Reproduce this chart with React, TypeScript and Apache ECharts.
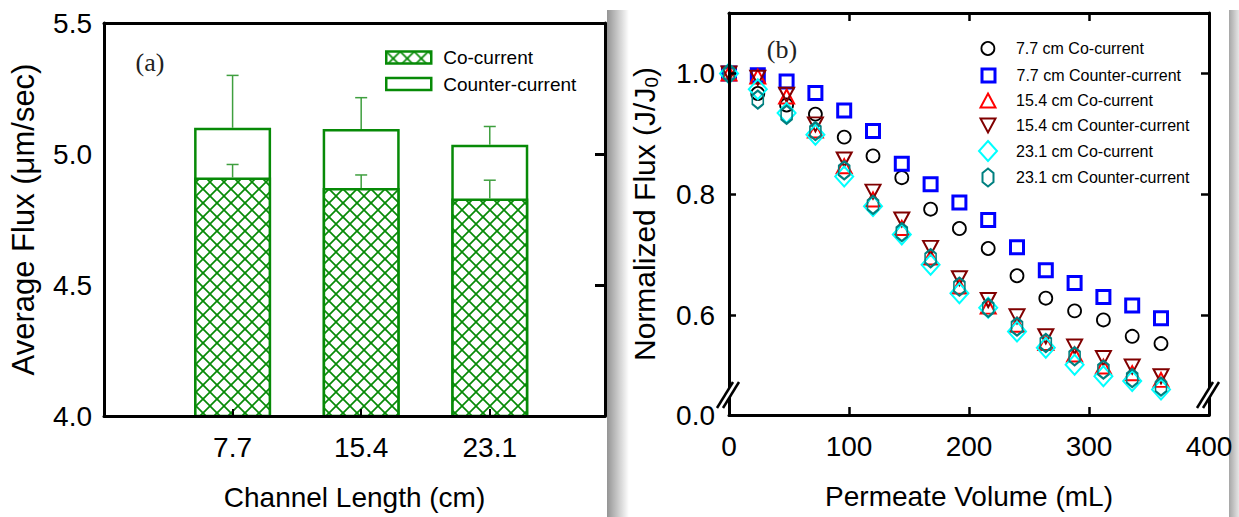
import React, { useEffect, useRef } from 'react';
import * as echarts from 'echarts';

// ---------- Panel (a) data ----------
const channelLengths = [7.7, 15.4, 23.1];
const channelLabels = ['7.7', '15.4', '23.1'];
const coCurrentFlux = [4.91, 4.87, 4.83];
const coCurrentErr = [0.05, 0.05, 0.07];
const counterCurrentFlux = [5.1, 5.095, 5.035];
const counterCurrentErr = [0.2, 0.12, 0.07];
const fluxTickValues = [4.0, 4.5, 5.0, 5.5];
const fluxTickLabels = ['4.0', '4.5', '5.0', '5.5'];

// ---------- Panel (b) data ----------
const permeateVolume = [0, 24, 48, 72, 96, 120, 144, 168, 192, 216, 240, 264, 288, 312, 336, 360];
const flux77Co = [1.0, 0.967, 0.948, 0.933, 0.895, 0.864, 0.828, 0.776, 0.744, 0.711, 0.666, 0.629, 0.608, 0.593, 0.566, 0.554];
const flux77Counter = [1.0, 0.997, 0.987, 0.968, 0.939, 0.905, 0.851, 0.817, 0.787, 0.758, 0.713, 0.675, 0.654, 0.631, 0.617, 0.596];
const flux154Co = [1.0, 0.995, 0.962, 0.906, 0.847, 0.792, 0.745, 0.696, 0.648, 0.615, 0.585, 0.555, 0.536, 0.516, 0.505, 0.494];
const flux154Counter = [1.0, 0.993, 0.965, 0.916, 0.858, 0.805, 0.759, 0.712, 0.662, 0.626, 0.599, 0.566, 0.549, 0.53, 0.516, 0.5];
const flux231Co = [1.0, 0.974, 0.935, 0.899, 0.83, 0.781, 0.734, 0.684, 0.637, 0.613, 0.574, 0.547, 0.519, 0.5, 0.492, 0.478];
const flux231Counter = [1.0, 0.957, 0.932, 0.905, 0.84, 0.783, 0.738, 0.695, 0.648, 0.613, 0.582, 0.555, 0.533, 0.511, 0.497, 0.483];
const volumeTickValues = [0, 100, 200, 300, 400];
const normTickValues = [0.436, 0.6, 0.8, 1.0];
const normTickLabels = ['0.0', '0.6', '0.8', '1.0'];

const FONT = 'Liberation Sans, Arial, sans-serif';
const GREEN = '#078a07';
const ERR_GREEN = '#3f9f3f';

const HEX_PATH = 'path://M0,-1 L0.866,-0.5 L0.866,0.5 L0,1 L-0.866,0.5 L-0.866,-0.5 Z';
const DOWN_TRI_PATH = 'path://M-1,-1 L1,-1 L0,1 Z';

const scatterDefs = [
  { name: '7.7 cm Co-current', data: flux77Co, symbol: 'circle', size: [13, 13], color: '#000000', bw: 1.8, row: 47 },
  { name: '7.7 cm Counter-current', data: flux77Counter, symbol: 'rect', size: [13, 13], color: '#0000ff', bw: 3, row: 74 },
  { name: '15.4 cm Co-current', data: flux154Co, symbol: 'triangle', size: [15, 14], color: '#ff0000', bw: 2, row: 99.5 },
  { name: '15.4 cm Counter-current', data: flux154Counter, symbol: DOWN_TRI_PATH, size: [15, 14], color: '#800000', bw: 2, row: 124.5 },
  { name: '23.1 cm Co-current', data: flux231Co, symbol: 'diamond', size: [18, 20], color: '#00ffff', bw: 2, row: 150 },
  { name: '23.1 cm Counter-current', data: flux231Counter, symbol: HEX_PATH, size: [11, 18], color: '#008080', bw: 2, row: 176.5 },
];

function makeHatch(): HTMLCanvasElement {
  const s = 14;
  const c = document.createElement('canvas');
  c.width = s;
  c.height = s;
  const ctx = c.getContext('2d')!;
  ctx.fillStyle = '#ffffff';
  ctx.fillRect(0, 0, s, s);
  ctx.strokeStyle = GREEN;
  ctx.lineWidth = 1.7;
  for (const d of [-s, 0, s]) {
    ctx.beginPath();
    ctx.moveTo(d, 0);
    ctx.lineTo(d + s, s);
    ctx.stroke();
    ctx.beginPath();
    ctx.moveTo(s + d, 0);
    ctx.lineTo(d, s);
    ctx.stroke();
  }
  return c;
}

export default function App() {
  const ref = useRef<HTMLDivElement>(null);

  useEffect(() => {
    if (!ref.current) return;
    const chart = echarts.init(ref.current, null, { renderer: 'svg' });
    const hatch = makeHatch();
    const hatchFill: any = { image: hatch, repeat: 'repeat', imageWidth: 14, imageHeight: 14 };

    const axisLine = { show: true, onZero: false, lineStyle: { color: '#000', width: 3 } };
    const labelStyle = { color: '#000', fontFamily: FONT, fontSize: 28 };

    const errRender = (params: any, api: any) => {
      const base = api.coord([api.value(0), api.value(1)]);
      const top = api.coord([api.value(0), api.value(2)]);
      return {
        type: 'group',
        children: [
          { type: 'line', shape: { x1: base[0], y1: base[1], x2: top[0], y2: top[1] }, style: { stroke: ERR_GREEN, lineWidth: 1.5 } },
          { type: 'line', shape: { x1: top[0] - 6, y1: top[1], x2: top[0] + 6, y2: top[1] }, style: { stroke: ERR_GREEN, lineWidth: 1.5 } },
        ],
      };
    };

    const rightLegends = scatterDefs.map((d) => {
      const w = d.size[0];
      const h = d.size[1];
      const left = 987 - w / 2;
      return {
        data: [d.name],
        orient: 'vertical',
        left,
        top: d.row - h / 2,
        padding: 0,
        itemWidth: w,
        itemHeight: h,
        symbolKeepAspect: false,
        selectedMode: false,
        itemStyle: { borderWidth: d.bw },
        textStyle: { color: '#000', fontFamily: FONT, fontSize: 16, padding: [0, 0, 0, 1015 - (left + w + 5)] },
      };
    });

    const option: any = {
      animation: false,
      backgroundColor: '#ffffff',
      grid: [
        { left: 104, top: 23, width: 501, height: 393, containLabel: false, outerBoundsMode: 'none' },
        { left: 729, top: 13, width: 480, height: 402, containLabel: false, outerBoundsMode: 'none' },
      ],
      legend: [
        {
          data: ['Co-current'], left: 385, top: 48, padding: 0, itemWidth: 45, itemHeight: 12, icon: 'rect',
          selectedMode: false, itemStyle: { borderWidth: 2.5 },
          textStyle: { color: '#000', fontFamily: FONT, fontSize: 19, padding: [0, 0, 0, 7] },
        },
        {
          data: ['Counter-current'], left: 385, top: 74.5, padding: 0, itemWidth: 45, itemHeight: 12, icon: 'rect',
          selectedMode: false, itemStyle: { borderWidth: 2.5 },
          textStyle: { color: '#000', fontFamily: FONT, fontSize: 19, padding: [0, 0, 0, 7] },
        },
        ...rightLegends,
      ],
      xAxis: [
        {
          gridIndex: 0, type: 'value', min: 0, max: 30, position: 'bottom', z: 10,
          axisLine, splitLine: { show: false },
          axisTick: { show: true, inside: true, length: 7, lineStyle: { width: 2, color: '#000' }, customValues: channelLengths },
          axisLabel: {
            ...labelStyle, margin: 17, customValues: channelLengths,
            formatter: (v: number) => channelLabels[channelLengths.findIndex((c) => Math.abs(c - v) < 1e-6)] ?? '',
          },
          name: 'Channel Length (cm)', nameLocation: 'middle', nameGap: 67,
          nameTextStyle: { color: '#000', fontFamily: FONT, fontSize: 28 },
        },
        {
          gridIndex: 0, type: 'value', min: 0, max: 30, position: 'top', z: 10,
          axisLine, splitLine: { show: false }, axisTick: { show: false }, axisLabel: { show: false },
        },
        {
          gridIndex: 1, type: 'value', min: 0, max: 400, interval: 100, position: 'bottom', z: 10,
          axisLine, splitLine: { show: false },
          axisTick: { show: true, inside: true, length: 8, lineStyle: { width: 2.5, color: '#000' }, customValues: [100, 200, 300] },
          axisLabel: { ...labelStyle, margin: 17, customValues: volumeTickValues, formatter: (v: number) => String(v) },
          name: 'Permeate Volume (mL)', nameLocation: 'middle', nameGap: 67,
          nameTextStyle: { color: '#000', fontFamily: FONT, fontSize: 28 },
        },
        {
          gridIndex: 1, type: 'value', min: 0, max: 400, interval: 100, position: 'top', z: 10,
          axisLine, splitLine: { show: false },
          axisTick: { show: true, inside: true, length: 8, lineStyle: { width: 2.5, color: '#000' }, customValues: [100, 200, 300] },
          axisLabel: { show: false },
        },
      ],
      yAxis: [
        {
          gridIndex: 0, type: 'value', min: 4.0, max: 5.5, interval: 0.5, position: 'left', z: 10,
          axisLine, splitLine: { show: false }, axisTick: { show: false },
          axisLabel: {
            ...labelStyle, margin: 12, customValues: fluxTickValues,
            formatter: (v: number) => fluxTickLabels[fluxTickValues.findIndex((c) => Math.abs(c - v) < 1e-6)] ?? '',
          },
          name: 'Average Flux (μm/sec)', nameLocation: 'middle', nameGap: 65,
          nameTextStyle: { color: '#000', fontFamily: FONT, fontSize: 31 },
        },
        {
          gridIndex: 0, type: 'value', min: 4.0, max: 5.5, interval: 0.5, position: 'right', z: 10,
          axisLine, splitLine: { show: false },
          axisTick: { show: true, inside: true, length: 10, lineStyle: { width: 3, color: '#000' }, customValues: [4.5, 5.0] },
          axisLabel: { show: false },
        },
        {
          gridIndex: 1, type: 'value', min: 0.436, max: 1.1, position: 'left', z: 10,
          axisLine, splitLine: { show: false },
          axisTick: { show: true, inside: true, length: 7, lineStyle: { width: 2.5, color: '#000' }, customValues: [0.6, 0.8, 1.0] },
          axisLabel: {
            ...labelStyle, margin: 14, customValues: normTickValues,
            formatter: (v: number) => normTickLabels[normTickValues.findIndex((c) => Math.abs(c - v) < 1e-6)] ?? '',
          },
          name: '{n|Normalized Flux (J/J}{sub|0}{n|)}', nameLocation: 'middle', nameGap: 68,
          nameTextStyle: {
            color: '#000', fontFamily: FONT, fontSize: 30,
            rich: {
              n: { color: '#000', fontFamily: FONT, fontSize: 30, verticalAlign: 'top', lineHeight: 32 },
              sub: { color: '#000', fontFamily: FONT, fontSize: 19, verticalAlign: 'top', padding: [13, 0, 0, 0] },
            },
          },
        },
        {
          gridIndex: 1, type: 'value', min: 0.436, max: 1.1, position: 'right', z: 10,
          axisLine, splitLine: { show: false },
          axisTick: { show: true, inside: true, length: 8, lineStyle: { width: 2.5, color: '#000' }, customValues: [0.6, 0.8, 1.0] },
          axisLabel: { show: false },
        },
      ],
      series: [
        {
          name: 'Counter-current', type: 'bar', xAxisIndex: 0, yAxisIndex: 0, barWidth: 77, barGap: '-100%',
          data: channelLengths.map((x, i) => [x, counterCurrentFlux[i]]),
          itemStyle: { color: '#ffffff', borderColor: GREEN, borderWidth: 2.5 },
          silent: true,
        },
        {
          name: 'Co-current', type: 'bar', xAxisIndex: 0, yAxisIndex: 0, barWidth: 77, barGap: '-100%',
          data: channelLengths.map((x, i) => [x, coCurrentFlux[i]]),
          itemStyle: { color: hatchFill, borderColor: GREEN, borderWidth: 2.5 },
          silent: true,
        },
        {
          name: 'counterErr', type: 'custom', xAxisIndex: 0, yAxisIndex: 0, z: 4, silent: true,
          encode: { x: 0, y: [1, 2] },
          data: channelLengths.map((x, i) => [x, counterCurrentFlux[i], counterCurrentFlux[i] + counterCurrentErr[i]]),
          renderItem: errRender,
        },
        {
          name: 'coErr', type: 'custom', xAxisIndex: 0, yAxisIndex: 0, z: 4, silent: true,
          encode: { x: 0, y: [1, 2] },
          data: channelLengths.map((x, i) => [x, coCurrentFlux[i], coCurrentFlux[i] + coCurrentErr[i]]),
          renderItem: errRender,
        },
        ...scatterDefs.map((d) => ({
          name: d.name, type: 'scatter', xAxisIndex: 2, yAxisIndex: 2, silent: true,
          symbol: d.symbol, symbolSize: d.size,
          data: permeateVolume.map((v, i) => [v, d.data[i]]),
          itemStyle: { color: 'rgba(255,255,255,0)', borderColor: d.color, borderWidth: d.bw, opacity: 1 },
        })),
      ],
      graphic: [
        {
          type: 'rect', z: 1, shape: { x: 607, y: 10, width: 22, height: 507 },
          style: { fill: { type: 'linear', x: 0, y: 0, x2: 1, y2: 0, colorStops: [{ offset: 0, color: 'rgba(0,0,0,0.42)' }, { offset: 1, color: 'rgba(0,0,0,0)' }] } },
        },
        {
          type: 'rect', z: 1, shape: { x: 1229, y: 10, width: 10, height: 507 },
          style: { fill: { type: 'linear', x: 0, y: 0, x2: 1, y2: 0, colorStops: [{ offset: 0, color: 'rgba(0,0,0,0.35)' }, { offset: 1, color: 'rgba(0,0,0,0.1)' }] } },
        },
        { type: 'text', z: 50, x: 150, y: 62, style: { text: '(a)', fill: '#222', font: '26px "Liberation Serif", serif', textAlign: 'center', textVerticalAlign: 'middle' } },
        { type: 'text', z: 50, x: 782, y: 49, style: { text: '(b)', fill: '#222', font: '26px "Liberation Serif", serif', textAlign: 'center', textVerticalAlign: 'middle' } },
        ...[729, 1209].map((cx) => ({
          type: 'group', z: 100, x: cx, y: 394,
          children: [
            { type: 'polygon', z: 100, shape: { points: [[-12, 14], [4, -12], [10, -12], [-6, 14]] }, style: { fill: '#fff' } },
            { type: 'line', z: 101, shape: { x1: -12, y1: 14, x2: 4, y2: -12 }, style: { stroke: '#000', lineWidth: 2.5 } },
            { type: 'line', z: 101, shape: { x1: -6, y1: 14, x2: 10, y2: -12 }, style: { stroke: '#000', lineWidth: 2.5 } },
          ],
        })),
      ],
    };

    chart.setOption(option);
    return () => chart.dispose();
  }, []);

  return (
    <div
      ref={ref}
      style={{ position: 'fixed', left: 0, top: 0, width: 1239, height: 517, background: '#fff' }}
    />
  );
}
